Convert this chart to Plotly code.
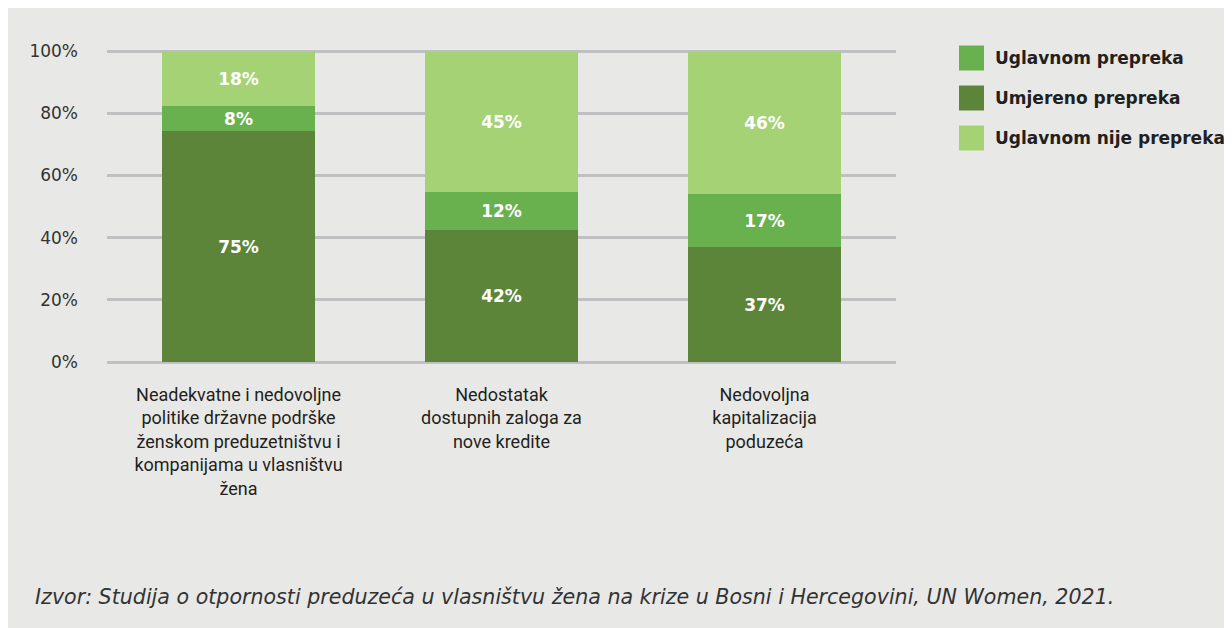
import plotly.graph_objects as go

# ---- data ----
categories = [
    "Neadekvatne i nedovoljne<br>politike državne podrške<br>ženskom preduzetništvu i<br>kompanijama u vlasništvu<br>žena",
    "Nedostatak<br>dostupnih zaloga za<br>nove kredite",
    "Nedovoljna<br>kapitalizacija<br>poduzeća",
]
umjereno_prepreka = [75, 42, 37]
uglavnom_prepreka = [8, 12, 17]
uglavnom_nije_prepreka = [18, 45, 46]
series_names = ["Umjereno prepreka", "Uglavnom prepreka", "Uglavnom nije prepreka"]
series_colors = ["#5c853a", "#69b04f", "#a5d274"]
legend_order = ["Uglavnom prepreka", "Umjereno prepreka", "Uglavnom nije prepreka"]
y_ticks = [0, 20, 40, 60, 80, 100]
y_tick_text = ["0%", "20%", "40%", "60%", "80%", "100%"]
source_text = ("Izvor: Studija o otpornosti preduzeća u vlasništvu žena na krize u Bosni i "
               "Hercegovini, UN Women, 2021.")

# ---- layout geometry (page pixels; page body has an 8px margin) ----
OFF = 8
W, H = 1232 - OFF, 628 - OFF
Y0_PX, Y100_PX = 362, 51          # page pixel rows of 0% and 100%
L, R = 107 - OFF, 896 - OFF
T, B = 48 - OFF, 365 - OFF        # plot area slightly larger so edge gridlines show
upp = 100 / (Y0_PX - Y100_PX)     # units per pixel
y_range = [-(365 - Y0_PX) * upp, 100 + (Y100_PX - 48) * upp]
BG = "#e8e9e6"
GRID = "#c0c0c2"

def px_x(px):
    return (px - OFF - L) / (R - L)

def px_y(py):
    return (B - (py - OFF)) / (B - T)

xpos = list(range(len(categories)))
fig = go.Figure()
for name, vals, col in zip(series_names,
                           [umjereno_prepreka, uglavnom_prepreka, uglavnom_nije_prepreka],
                           series_colors):
    fig.add_trace(go.Bar(
        x=xpos, y=vals, name=name, marker=dict(color=col, line=dict(width=0)),
        width=0.58, text=[f"{v}%" for v in vals], textposition="inside",
        insidetextanchor="middle", textangle=0, constraintext="none",
        textfont=dict(family="DejaVu Sans", size=17, color="white", weight="bold"),
        showlegend=False, hoverinfo="skip",
    ))

shapes = []
annotations = [dict(xref="paper", yref="paper", x=px_x(33), y=px_y(597),
                    xanchor="left", yanchor="middle", showarrow=False,
                    text=f"<i>{source_text}</i>",
                    font=dict(family="DejaVu Sans", size=20.6, color="#333333"))]

# legend built from series names / colours
for i, name in enumerate(legend_order):
    col = series_colors[series_names.index(name)]
    cy = 58 + 40 * i
    shapes.append(dict(type="rect", xref="paper", yref="paper",
                       x0=px_x(959), x1=px_x(984), y0=px_y(cy + 12.5), y1=px_y(cy - 12.5),
                       fillcolor=col, line=dict(width=0)))
    annotations.append(dict(xref="paper", yref="paper", x=px_x(993), y=px_y(cy),
                            xanchor="left", yanchor="middle", showarrow=False,
                            text=f"<b>{name}</b>",
                            font=dict(family="DejaVu Sans", size=17, color="#231f20")))

fig.update_layout(
    width=W, height=H, autosize=False,
    margin=dict(l=L, r=W - R, t=T, b=H - B, pad=0),
    paper_bgcolor=BG, plot_bgcolor=BG,
    barmode="stack", barnorm="percent", bargap=0,
    shapes=shapes, annotations=annotations, showlegend=False,
    xaxis=dict(range=[-0.5, 2.5], tickvals=xpos, ticktext=categories,
               showgrid=False, zeroline=False, showline=False, ticks="",
               ticklabelstandoff=17,
               tickfont=dict(family="Roboto", size=18, color="#231f20")),
    yaxis=dict(range=y_range, tickvals=y_ticks, ticktext=y_tick_text,
               showgrid=True, gridcolor=GRID, gridwidth=2.5, zeroline=False,
               showline=False, ticks="", ticklabelstandoff=28,
               tickfont=dict(family="DejaVu Sans", size=17, color="#333333")),
)

fig.write_html("out.html")
